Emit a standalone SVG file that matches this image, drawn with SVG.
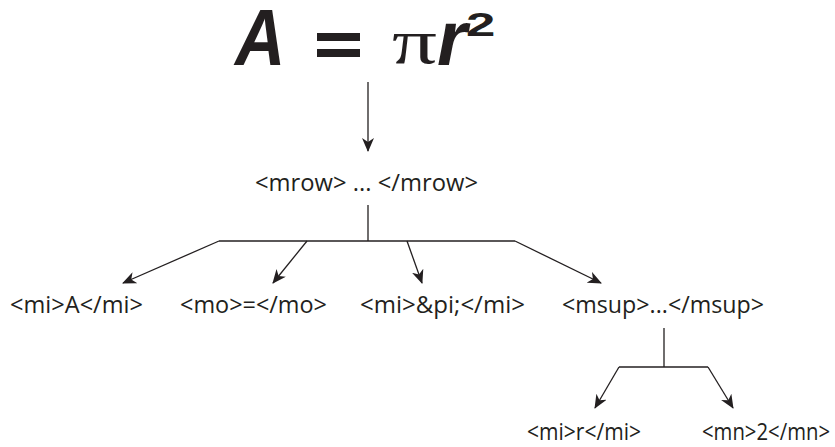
<svg xmlns="http://www.w3.org/2000/svg" width="835" height="447" viewBox="0 0 835 447">
<style>
.lbl{font-family:"Open Sans","DejaVu Sans",sans-serif;font-size:23px;fill:#231f20}
.ln{stroke:#231f20;stroke-width:1.3;fill:none}
.ar{stroke:#231f20;stroke-width:1.3;fill:none;marker-end:url(#ah)}
.eq{font-family:"Liberation Sans",Arial,sans-serif;font-weight:bold;fill:#231f20}
</style>
<defs>
<marker id="ah" viewBox="0 0 14 12" refX="13" refY="6" markerWidth="14" markerHeight="12" markerUnits="userSpaceOnUse" orient="auto">
<path d="M0,0 L14,6 L0,12 L4,6 z" fill="#231f20"/>
</marker>
</defs>
<g id="equation">
<text class="eq" transform="translate(235,65) scale(0.87,1)" x="0" y="0" font-size="80" font-style="italic">A</text>
<rect x="317" y="33" width="43" height="8" fill="#231f20"/>
<rect x="317" y="49" width="43" height="8" fill="#231f20"/>
<text x="392" y="63" font-family="'Liberation Serif','Times New Roman',serif" font-size="64" fill="#231f20" textLength="45" lengthAdjust="spacingAndGlyphs">π</text>
<text class="eq" x="437" y="65" font-size="77" font-style="italic">r</text>
<text class="eq" transform="translate(466,36) scale(1.6,1)" x="0" y="0" font-size="33">2</text>
</g>
<g id="mrow"><text class="lbl" x="255" y="191" textLength="223" lengthAdjust="spacingAndGlyphs">&lt;mrow&gt; ... &lt;/mrow&gt;</text></g>
<g id="mi-A"><text class="lbl" x="10" y="313" textLength="133" lengthAdjust="spacingAndGlyphs">&lt;mi&gt;A&lt;/mi&gt;</text></g>
<g id="mo-eq"><text class="lbl" x="180" y="313" textLength="147" lengthAdjust="spacingAndGlyphs">&lt;mo&gt;=&lt;/mo&gt;</text></g>
<g id="mi-pi"><text class="lbl" x="360" y="313" textLength="165" lengthAdjust="spacingAndGlyphs">&lt;mi&gt;&amp;pi;&lt;/mi&gt;</text></g>
<g id="msup"><text class="lbl" x="562" y="313" textLength="202" lengthAdjust="spacingAndGlyphs">&lt;msup&gt;...&lt;/msup&gt;</text></g>
<g id="mi-r"><text class="lbl" x="527" y="440" textLength="114" lengthAdjust="spacingAndGlyphs">&lt;mi&gt;r&lt;/mi&gt;</text></g>
<g id="mn-2"><text class="lbl" x="702" y="440" font-size="21" textLength="128" lengthAdjust="spacingAndGlyphs">&lt;mn&gt;2&lt;/mn&gt;</text></g>
<g id="connectors">
<line class="ar" x1="368" y1="82" x2="368" y2="151"/>
<line class="ln" x1="368" y1="205" x2="368" y2="241"/>
<line class="ln" x1="219" y1="241" x2="515" y2="241"/>
<line class="ar" x1="219" y1="241" x2="123" y2="283"/>
<line class="ar" x1="307" y1="241" x2="273" y2="283"/>
<line class="ar" x1="407" y1="241" x2="422" y2="283"/>
<line class="ar" x1="515" y1="241" x2="601" y2="283"/>
<line class="ln" x1="664" y1="328" x2="664" y2="367"/>
<line class="ln" x1="619" y1="367" x2="708" y2="367"/>
<line class="ar" x1="619" y1="367" x2="595" y2="408"/>
<line class="ar" x1="708" y1="367" x2="733" y2="408"/>
</g>
</svg>
